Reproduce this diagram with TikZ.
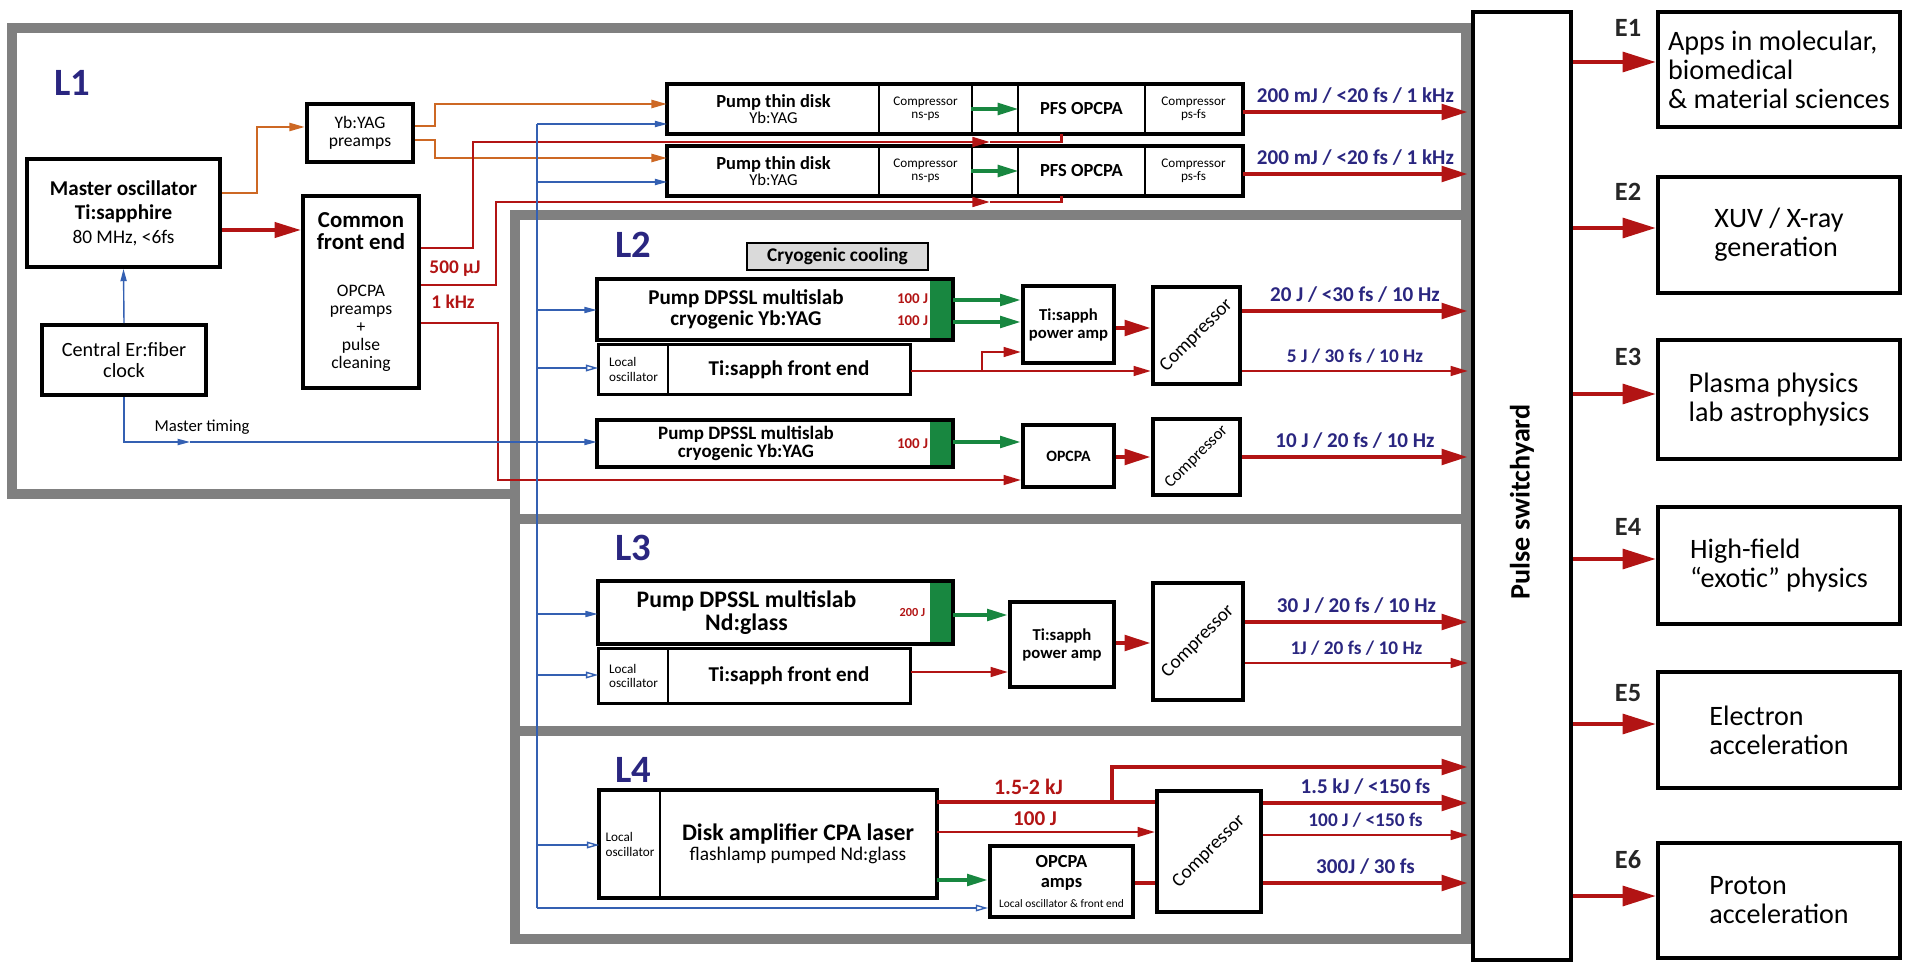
\documentclass[tikz,border=0pt]{standalone}
\usepackage{fontspec}
\setmainfont{Carlito}
\usetikzlibrary{arrows.meta, calc}

\definecolor{framegray}{RGB}{128,128,128}
\definecolor{beamred}{RGB}{178,20,20}
\definecolor{pumpgreen}{RGB}{24,135,64}
\definecolor{seedorange}{RGB}{205,104,36}
\definecolor{clockblue}{RGB}{52,96,178}
\definecolor{tagblue}{RGB}{42,38,128}
\definecolor{cryogray}{RGB}{218,218,218}

\newcommand{\fsz}[2]{\fontsize{#1pt}{#2pt}\selectfont}
% box between corners (#2,#3) and (#4,#5), pixel units
\newcommand{\blk}[7]{%
  \node[#6, minimum width={((#4)-(#2))*0.02cm}, minimum height={((#5)-(#3))*0.02cm}]
    (#1) at ({((#2)+(#4))/2},{((#3)+(#5))/2}) {#7};}

\tikzset{
  lframe/.style={draw=framegray, line width=5.5pt, line join=miter},
  cellbox/.style={draw=black, line width=0.9pt, fill=white, inner sep=1pt, align=center},
  heavybox/.style={draw=black, line width=2.2pt, fill=white, inner sep=1pt, align=center},
  plainbox/.style={draw=none, inner sep=1pt, align=center},
  cmpbox/.style={heavybox, inner sep=0pt, font=\fsz{11}{12}},
  ebox/.style={heavybox, align=left, font=\fsz{16}{16.5}},
  rim/.style={draw=black, line width=#1},
  rim/.default=2.4pt,
  greenbar/.style={fill=pumpgreen, draw=none, inner sep=0pt},
  energy/.style={plainbox, inner sep=0pt, text=beamred, font=\fsz{8.5}{12.3}\bfseries},
  beam/.style={draw=beamred, line width=2.8pt, -{Triangle[length=15pt,width=8.5pt]}},
  beamplain/.style={draw=beamred, line width=2.8pt},
  beamthin/.style={draw=beamred, line width=1.5pt, -{Triangle[length=10pt,width=5.5pt]}},
  beamline/.style={draw=beamred, line width=1.5pt},
  pumpbeam/.style={draw=pumpgreen, line width=2.3pt, -{Triangle[length=12pt,width=6.5pt]}},
  seedbeam/.style={draw=seedorange, line width=1.5pt, -{Triangle[length=9pt,width=4.5pt]}},
  timing/.style={draw=clockblue, line width=0.8pt},
  timingin/.style={timing, -{Triangle[length=7pt,width=3.5pt]}},
  timinglo/.style={timing, -{Triangle[open,length=7pt,width=3.8pt]}},
  exitbeam/.style={draw=beamred, line width=2.8pt, -{Triangle[length=19pt,width=11pt]}},
  lname/.style={text=tagblue, font=\fsz{22}{24}\bfseries},
  outlbl/.style={text=tagblue, font=\fsz{12}{14}\bfseries, inner sep=1pt, above=2.5pt},
  outlbls/.style={outlbl, font=\fsz{11}{13}\bfseries},
  redlbl/.style={text=beamred, font=\fsz{12}{13}\bfseries, inner sep=1pt},
  ename/.style={text=black!85, font=\fsz{15}{17}\bfseries},
}

\begin{document}
\begin{tikzpicture}[x=0.02cm, y=-0.02cm]
\useasboundingbox (0,0) rectangle (1905,962);

% halls
\draw[lframe] (12,28) -- (1466,28) -- (1466,215) -- (515,215) -- (515,494) -- (12,494) -- cycle;
\draw[lframe] (515,215) rectangle (1466,519);
\draw[lframe] (515,519) rectangle (1466,731);
\draw[lframe] (515,731) rectangle (1466,939);

\node[lname] (L1) at (72,83) {L1};
\node[lname] (L2) at (633,245) {L2};
\node[lname] (L3) at (633,548) {L3};
\node[lname] (L4) at (633,770) {L4};

% switchyard and end stations
\blk{sw}{1473}{12}{1571}{960}{heavybox, font=\fsz{16}{16}\bfseries}{\rotatebox{90}{Pulse switchyard\hspace{18pt}}}
\coordinate (swin) at ([xshift=-0.06cm]sw.west);

\blk{E1}{1658}{12}{1900}{127}{ebox}{Apps in molecular,\\biomedical\\\& material sciences}
\blk{E2}{1658}{177}{1900}{293}{ebox}{XUV / X-ray\\generation}
\blk{E3}{1658}{340}{1900}{459}{ebox}{Plasma physics\\lab astrophysics}
\blk{E4}{1658}{507}{1900}{624}{ebox}{High-field\\“exotic” physics}
\blk{E5}{1658}{672}{1900}{788}{ebox}{Electron\\acceleration}
\blk{E6}{1658}{843}{1900}{958}{ebox}{Proton\\acceleration}
\node[ename] (E1n) at (1628,28) {E1};
\node[ename] (E2n) at (1628,192) {E2};
\node[ename] (E3n) at (1628,357) {E3};
\node[ename] (E4n) at (1628,527) {E4};
\node[ename] (E5n) at (1628,693) {E5};
\node[ename] (E6n) at (1628,860) {E6};
\foreach \i/\ya in {1/62,2/228,3/394,4/559,5/724,6/896}
  \draw[exitbeam] (sw.east |- 0,\ya) -- (E\i.west |- 0,\ya);

% L1: oscillator, front end and PFS lines
\blk{mo}{27}{159}{220}{267}{heavybox, font=\fsz{11}{13.6}}{{\fsz{12}{13.6}\bfseries Master oscillator}\\{\fsz{12}{13.6}\bfseries Ti:sapphire}\\80 MHz, <6fs}
\blk{clk}{42}{325}{206}{395}{heavybox, font=\fsz{11.5}{11.5}}{Central Er:fiber\\clock}
\blk{pre}{307}{104}{413}{162}{heavybox, font=\fsz{10}{10}}{Yb:YAG\\preamps}
\blk{cfe}{303}{196}{419}{388}{heavybox, font=\fsz{10}{10.3}}{{\fsz{13}{13}\bfseries Common}\\[2.5pt]{\fsz{13}{13}\bfseries front end}\\[16pt]OPCPA\\preamps\\+\\pulse\\cleaning}
\node[redlbl, font=\fsz{11}{12}\bfseries] (uj) at (455,269) {500 µJ};
\node[redlbl, font=\fsz{11}{12}\bfseries] (khz) at (453,302) {1 kHz};
\node[font=\fsz{9.5}{10}] (mtl) at (202,427) {Master timing};

\foreach \r/\yt in {1/85,2/147}{
  \blk{pt\r}{668}{\yt}{879}{\yt+48}{cellbox, font=\fsz{9.5}{9.5}}{{\fsz{10.5}{11}\bfseries Pump thin disk}\\Yb:YAG}
  \blk{cn\r}{879}{\yt}{972}{\yt+48}{cellbox, font=\fsz{7.5}{7.5}}{Compressor\\ns-ps}
  \blk{gp\r}{972}{\yt}{1018}{\yt+48}{cellbox}{}
  \blk{pf\r}{1018}{\yt}{1145}{\yt+48}{cellbox, font=\fsz{10.5}{11}\bfseries}{PFS OPCPA}
  \blk{cf\r}{1145}{\yt}{1242}{\yt+48}{cellbox, font=\fsz{7.5}{7.5}}{Compressor\\ps-fs}
  \draw[rim] (pt\r.north west) rectangle (cf\r.south east);
  \draw[pumpbeam] (gp\r.west) -- (gp\r.east);
  \draw[beam] (cf\r.east |- 0,\yt+27) -- (swin |- 0,\yt+27)
    node[midway, outlbl] {200 mJ / <20 fs / 1 kHz};
}

\draw[timingin] (clk.north) -- (mo.south);
\draw[beam, line width=2.3pt] (mo.east |- 0,230) -- (cfe.west |- 0,230);
\draw[seedbeam] (mo.east |- 0,193) -| (257,127) -- (pre.west |- 0,127);
\draw[seedbeam] (pre.east |- 0,126) -| (435,104) -- (pt1.west |- 0,104);
\draw[seedbeam] (pre.east |- 0,140) -| (435,158) -- (pt2.west |- 0,158);

\coordinate (m1) at (990,142);
\coordinate (m2) at (990,202);
\draw[beamthin] (cfe.east |- 0,248) -| (473,142) -- (m1);
\draw[beamline] (m1) -| ($(pf1.south west)+(44,0)$);
\draw[beamthin] (cfe.east |- 0,285) -| (496,202) -- (m2);
\draw[beamline] (m2) -| ($(pf2.south west)+(44,0)$);

% L2
\blk{cryo}{747}{243}{928}{270}{cellbox, fill=cryogray, line width=1.5pt, font=\fsz{11}{11}\bfseries}{Cryogenic cooling}
\blk{pa}{597}{279}{895}{340}{plainbox, font=\fsz{12}{12}\bfseries}{Pump DPSSL multislab\\cryogenic Yb:YAG}
\blk{ja}{895}{279}{930}{340}{energy}{100 J\\100 J}
\blk{pab}{930}{279}{953}{340}{greenbar}{}
\draw[rim=2.2pt] (pa.north west) rectangle (pab.south east);
\blk{fe2lo}{599}{345}{668}{394}{cellbox, align=left, font=\fsz{7.5}{8.5}}{Local\\oscillator}
\blk{fe2}{668}{345}{910}{394}{cellbox, font=\fsz{12}{12}\bfseries}{Ti:sapph front end}
\draw[rim=1.8pt] (fe2lo.north west) rectangle (fe2.south east);
\blk{pc}{597}{420}{895}{467}{plainbox, font=\fsz{10.8}{10.4}\bfseries}{Pump DPSSL multislab\\cryogenic Yb:YAG}
\blk{jc}{895}{420}{930}{467}{energy}{100 J}
\blk{pcb}{930}{420}{953}{467}{greenbar}{}
\draw[rim=2.2pt] (pc.north west) rectangle (pcb.south east);
\blk{pamp}{1023}{286}{1114}{363}{heavybox, font=\fsz{9.5}{10.2}\bfseries}{Ti:sapph\\power amp}
\blk{opa}{1023}{425}{1114}{487}{heavybox, font=\fsz{9}{10}\bfseries}{OPCPA}
\blk{cmp1}{1153}{287}{1240}{384}{cmpbox}{\rotatebox{45}{Compressor}}
\blk{cmp2}{1153}{419}{1240}{495}{cmpbox, font=\fsz{9.5}{10}}{\rotatebox{45}{Compressor}}

\draw[pumpbeam] (pab.east |- 0,300) -- (pamp.west |- 0,300);
\draw[pumpbeam] (pab.east |- 0,322) -- (pamp.west |- 0,322);
\coordinate (br2) at (982,371);
\draw[beamthin] (fe2.east |- 0,371) -- (cmp1.west |- 0,371);
\draw[beamthin] (br2) |- (pamp.west |- 0,352);
\draw[beam] (pamp.east |- 0,328) -- (cmp1.west |- 0,328);
\draw[pumpbeam] (pcb.east |- 0,442) -- (opa.west |- 0,442);
\draw[beamthin] (cfe.east |- 0,323) -| (498,480) -- (opa.west |- 0,480);
\draw[beam] (opa.east |- 0,457) -- (cmp2.west |- 0,457);
\draw[beam] (cmp1.east |- 0,311) -- (swin |- 0,311) node[midway, outlbl] {20 J / <30 fs / 10 Hz};
\draw[beamthin] (cmp1.east |- 0,371) -- (swin |- 0,371) node[midway, outlbls] {5 J / 30 fs / 10 Hz};
\draw[beam] (cmp2.east |- 0,457) -- (swin |- 0,457) node[midway, outlbl] {10 J / 20 fs / 10 Hz};

% L3
\blk{pd}{598}{581}{895}{644}{plainbox, font=\fsz{13.5}{13.2}\bfseries}{Pump DPSSL multislab\\Nd:glass}
\blk{jd}{895}{581}{930}{644}{energy, font=\fsz{7}{8}\bfseries}{200 J}
\blk{pdb}{930}{581}{953}{644}{greenbar}{}
\draw[rim=2.2pt] (pd.north west) rectangle (pdb.south east);
\blk{fe3lo}{599}{649}{668}{703}{cellbox, align=left, font=\fsz{7.5}{8.5}}{Local\\oscillator}
\blk{fe3}{668}{649}{910}{703}{cellbox, font=\fsz{12}{12}\bfseries}{Ti:sapph front end}
\draw[rim=1.8pt] (fe3lo.north west) rectangle (fe3.south east);
\blk{pamp3}{1010}{602}{1114}{687}{heavybox, font=\fsz{9.5}{10.2}\bfseries}{Ti:sapph\\power amp}
\blk{cmp3}{1153}{583}{1243}{700}{cmpbox}{\rotatebox{45}{Compressor}}

\draw[pumpbeam] (pdb.east |- 0,615) -- (pamp3.west |- 0,615);
\draw[beamthin] (fe3.east |- 0,672) -- (pamp3.west |- 0,672);
\draw[beam] (pamp3.east |- 0,643) -- (cmp3.west |- 0,643);
\draw[beam] (cmp3.east |- 0,622) -- (swin |- 0,622) node[midway, outlbl] {30 J / 20 fs / 10 Hz};
\draw[beamthin] (cmp3.east |- 0,663) -- (swin |- 0,663) node[midway, outlbls] {1J / 20 fs / 10 Hz};

% L4
\blk{dlo}{600}{791}{660}{897}{cellbox, align=left, font=\fsz{7.5}{8.5}}{Local\\oscillator}
\blk{dam}{660}{791}{936}{897}{cellbox, font=\fsz{11}{11.3}}{{\fsz{13.5}{14}\bfseries Disk amplifier CPA laser}\\flashlamp pumped Nd:glass}
\draw[rim] (dlo.north west) rectangle (dam.south east);
\blk{amps}{990}{846}{1133}{917}{heavybox, font=\fsz{6.5}{7.5}}{{\fsz{10.5}{11}\bfseries OPCPA}\\[3.8pt]{\fsz{10.5}{11}\bfseries amps}\\[3.8pt]Local oscillator \& front end}
\blk{cmp4}{1157}{791}{1261}{912}{cmpbox}{\rotatebox{45}{Compressor}}

\coordinate (br4) at (1112,802);
\draw[beamplain] (dam.east |- 0,802) -- (cmp4.west |- 0,802)
  node[pos=0.42, above=2pt, redlbl, font=\fsz{12.5}{13}\bfseries] (kj) {1.5-2 kJ};
\draw[beam] (br4) |- (swin |- 0,767);
\draw[beamthin] (dam.east |- 0,832) -- (cmp4.west |- 0,832)
  node[pos=0.45, above=2pt, redlbl] (hj) {100 J};
\draw[pumpbeam] (dam.east |- 0,880) -- (amps.west |- 0,880);
\draw[beamplain] (amps.east |- 0,883) -- (cmp4.west |- 0,883);
\draw[beam] (cmp4.east |- 0,803) -- (swin |- 0,803) node[midway, outlbl] {1.5 kJ / <150 fs};
\draw[beamthin] (cmp4.east |- 0,835) -- (swin |- 0,835) node[midway, outlbls] {100 J / <150 fs};
\draw[beam] (cmp4.east |- 0,883) -- (swin |- 0,883) node[midway, outlbl] {300J / 30 fs};

% timing distribution
\coordinate (busT) at (537,124);
\coordinate (busB) at (537,908);
\coordinate (mt) at (190,442);
\draw[timing] (busT) -- (busB);
\draw[timingin] (clk.south) |- (mt);
\draw[timingin] (mt) -- (pc.west |- mt);
\foreach \yy/\tgt in {124/pt1,182/pt2,310/pa,614/pd}
  \draw[timingin] (busT |- 0,\yy) -- (\tgt.west |- 0,\yy);
\foreach \yy/\tgt in {368/fe2lo,675/fe3lo,845/dlo,908/amps}
  \draw[timinglo] (busT |- 0,\yy) -- (\tgt.west |- 0,\yy);
\end{tikzpicture}
\end{document}
